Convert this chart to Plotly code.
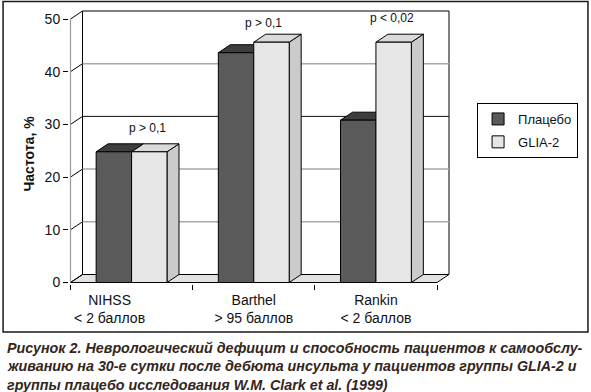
import plotly.graph_objects as go

# ---------------- data ----------------
categories = ["NIHSS<br>&lt; 2 баллов", "Barthel<br>&gt; 95 баллов", "Rankin<br>&lt; 2 баллов"]
series_names = ["Плацебо", "GLIA-2"]
placebo = [24.8, 43.6, 30.8]
glia2 = [24.8, 45.6, 45.6]
p_labels = ["p &gt; 0,1", "p &gt; 0,1", "p &lt; 0,02"]
y_ticks = [0, 10, 20, 30, 40, 50]
y_title = "Частота, %"
caption_lines = [
    "Рисунок 2. Неврологический дефицит и способность пациентов к самообслу-",
    "живанию на 30-е сутки после дебюта инсульта у пациентов группы GLIA-2 и",
    "группы плацебо исследования W.M. Clark et al. (1999)",
]

# ---------------- layout geometry (pixels) ----------------
W, H = 591, 392
U = 122.3          # px per category unit
V = 5.27           # px per value unit
FRONT_LEFT = 70.0
ZERO_Y = 282.5
DX = 12 / U        # depth offset (x, in category units)
DY = 8 / V         # depth offset (y, in value units)
EX = 1.5 / U
EY = 1.5 / V
BW = 0.29          # bar width in category units

x_range = [-0.5 - EX, 2.5 + DX + 2 * EX]
y_range = [-EY, 50 + DY + 2 * EY]
L = FRONT_LEFT - EX * U
PW = (x_range[1] - x_range[0]) * U
R = W - L - PW
B = H - ZERO_Y - EY * V
PH = (y_range[1] - y_range[0]) * V
T = H - B - PH


def px_x(px):
    return (px - L) / PW


def px_y(py):
    return ((H - B) - py) / PH


FONT = "Liberation Sans, Arial, sans-serif"
colors_front = ["#5a5a5a", "#e6e6e6"]
colors_top = ["#3e3e3e", "#dadada"]
colors_side = ["#333333", "#cbcbcb"]
grid_colors = {10: "#a8a8a8", 20: "#a8a8a8", 30: "#111111", 40: "#a8a8a8"}

fig = go.Figure()
series = [placebo, glia2]
offsets = [-BW, 0.0]
for k, (name, vals) in enumerate(zip(series_names, series)):
    fig.add_trace(go.Bar(
        x=list(range(len(categories))), y=vals, name=name,
        width=BW, offset=offsets[k],
        marker=dict(color=colors_front[k], line=dict(color="#000", width=1)),
        legendgroup=name, hoverinfo="skip",
    ))

shapes = []
# back wall
shapes.append(dict(type="rect", xref="x", yref="y", layer="below",
                   x0=-0.5 + DX, x1=2.5 + DX, y0=DY, y1=50 + DY,
                   fillcolor="white", line=dict(color="#000", width=1)))
# floor
shapes.append(dict(type="path", xref="x", yref="y", layer="below",
                   path=f"M {-0.5} 0 L 2.5 0 L {2.5 + DX} {DY} L {-0.5 + DX} {DY} Z",
                   fillcolor="#e2e2e2", line=dict(color="#000", width=1)))
# gridlines on back wall
for v in y_ticks[1:-1]:
    shapes.append(dict(type="line", xref="x", yref="y", layer="below",
                       x0=-0.5 + DX, x1=2.5 + DX, y0=v + DY, y1=v + DY,
                       line=dict(color=grid_colors[v], width=1.5 if v != 30 else 1)))
# left side diagonals
for v in y_ticks:
    shapes.append(dict(type="line", xref="x", yref="y", layer="below",
                       x0=-0.5, x1=-0.5 + DX, y0=v, y1=v + DY,
                       line=dict(color="#000", width=1)))
# front y-axis line
shapes.append(dict(type="line", xref="x", yref="y", layer="below",
                   x0=-0.5, x1=-0.5, y0=0, y1=50,
                   line=dict(color="#9a9a9a", width=1.2)))
# 3D faces of bars
for k, vals in enumerate(series):
    for i, v in enumerate(vals):
        x0 = i + offsets[k]
        x1 = x0 + BW
        shapes.append(dict(type="path", xref="x", yref="y", layer="below",
                           path=f"M {x1} 0 L {x1} {v} L {x1 + DX} {v + DY} L {x1 + DX} {DY} Z",
                           fillcolor=colors_side[k], line=dict(color="#000", width=1)))
        shapes.append(dict(type="path", xref="x", yref="y", layer="below",
                           path=f"M {x0} {v} L {x1} {v} L {x1 + DX} {v + DY} L {x0 + DX} {v + DY} Z",
                           fillcolor=colors_top[k], line=dict(color="#000", width=1)))
# outer frame
shapes.append(dict(type="rect", xref="paper", yref="paper",
                   x0=px_x(2.5), x1=px_x(588), y0=px_y(332), y1=px_y(1.5),
                   fillcolor="rgba(0,0,0,0)", line=dict(color="#1a1a1a", width=1.5)))

annotations = []
p_dx = [0.13, 0.08, 0.13]
p_dy_px = [16, 11, 16]
for i, txt in enumerate(p_labels):
    top = max(placebo[i], glia2[i]) + DY
    annotations.append(dict(x=i + p_dx[i], y=top, xref="x", yref="y", text=txt,
                            showarrow=False, xanchor="center", yanchor="middle",
                            yshift=p_dy_px[i],
                            font=dict(family=FONT, size=12, color="#111")))
annotations.append(dict(x=px_x(28), y=px_y(154), xref="paper", yref="paper",
                        text=f"<b>{y_title}</b>", textangle=-90, showarrow=False,
                        xanchor="center", yanchor="middle",
                        font=dict(family=FONT, size=14, color="#111")))
cap_y = [347.5, 366, 384.5]
for line, cy in zip(caption_lines, cap_y):
    annotations.append(dict(x=px_x(4), y=px_y(cy), xref="paper", yref="paper",
                            text=f"<b><i>{line}</i></b>", showarrow=False,
                            xanchor="left", yanchor="middle",
                            font=dict(family=FONT, size=14.3, color="#33261c")))

label_offset = [-0.18, 0.0, 0.0]
fig.update_layout(
    width=W, height=H,
    margin=dict(l=L, r=R, t=T, b=B, pad=0),
    paper_bgcolor="white", plot_bgcolor="rgba(0,0,0,0)",
    barmode="overlay", showlegend=True,
    font=dict(family=FONT, size=14, color="#111"),
    xaxis=dict(range=x_range, showgrid=False, zeroline=False, showline=False,
               tickmode="array",
               tickvals=[i + label_offset[i] for i in range(len(categories))],
               ticktext=categories, ticks="", ticklabelstandoff=6,
               tickfont=dict(family=FONT, size=14, color="#111")),
    yaxis=dict(range=y_range, showgrid=False, zeroline=False, showline=False,
               tickmode="array", tickvals=y_ticks, ticks="outside", ticklen=5,
               tickcolor="#000", tickwidth=1,
               tickfont=dict(family=FONT, size=14, color="#111")),
    legend=dict(x=px_x(477), y=px_y(103), xanchor="left", yanchor="top",
                bordercolor="#000", borderwidth=1, bgcolor="white",
                tracegroupgap=3, traceorder="grouped", itemwidth=30,
                font=dict(family=FONT, size=13, color="#111")),
    shapes=shapes, annotations=annotations,
)
fig.update_xaxes(minor=dict(tickmode="array", tickvals=[-0.5, 0.5, 1.5, 2.5],
                            ticks="outside", ticklen=5, tickcolor="#000", tickwidth=1,
                            showgrid=False))

fig.write_html("out.html", config={"displayModeBar": False},
               post_script="document.body.style.margin='0';")
